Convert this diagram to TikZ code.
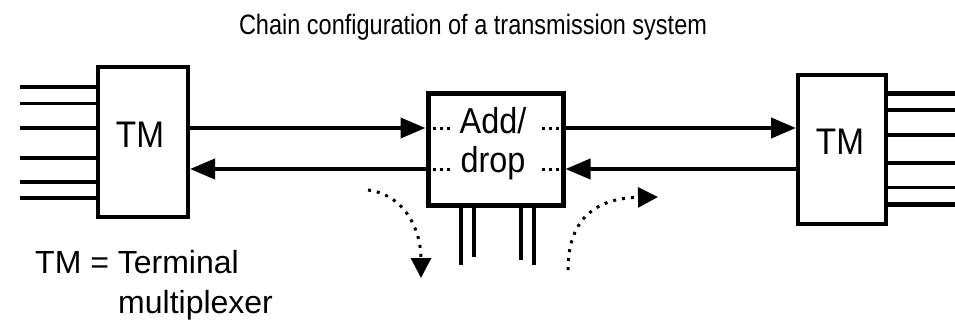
\documentclass[tikz,border=0pt]{standalone}
\usepackage{fontspec}
\setmainfont{Liberation Sans}
\newfontfamily\narrowA[FakeStretch=0.9]{Liberation Sans}
\newfontfamily\narrowB[FakeStretch=0.84]{Liberation Sans}
\usetikzlibrary{arrows.meta}
\tikzset{
  tmbox/.style={draw, line width=4pt, minimum width=90pt, minimum height=150pt, inner sep=0pt},
  adbox/.style={draw, line width=5pt, minimum width=135pt, minimum height=112pt, inner sep=0pt},
  boxtext/.style={font=\narrowA\fontsize{37}{40}\selectfont, inner sep=0pt},
  adtext/.style={font=\narrowA\fontsize{36}{40}\selectfont, inner sep=0pt, anchor=base},
  trunk/.style={line width=4pt, -{Triangle[length=25pt,width=20pt]}},
  plain/.style={line width=4pt},
  thru/.style={line width=3pt, dash pattern=on 3pt off 4pt},
  pin/.style={line width=4pt},
  flow/.style={line width=3pt, dash pattern=on 3pt off 6pt, -{Triangle[length=20pt,width=20pt]}},
}
\begin{document}
\begin{tikzpicture}[x=1pt, y=-1pt]
\useasboundingbox (0,0) rectangle (955,321);

% title
\node[font=\narrowB\fontsize{28}{32}\selectfont, inner sep=0pt] (title) at (473,27) {Chain configuration of a transmission system};

% the three network elements
\node[tmbox] (L) at (143,142) {};
\node[tmbox, minimum width=88pt, minimum height=149pt] (R) at (842,149.5) {};
\node[adbox] (A) at (495.5,149) {};

\node[boxtext] (Ltxt) at (140,135) {TM};
\node[boxtext] (Rtxt) at (840,142) {TM};
\node[adtext] (add) at (493,133) {Add/};
\node[adtext] (drop) at (493,172) {drop};

% levels of the two line directions
\coordinate (up) at (0,128);
\coordinate (dn) at (0,169);

% tributaries of the terminal multiplexers
\foreach \y/\w in {87/4,103/3,128/4,158/4,182/4,198/4} {
  \coordinate (li\y) at (20,\y);
  \draw[line width=\w pt] (li\y) -- (L.west |- li\y);
}
\foreach \y/\w in {93/5,110/4,135/4,163/4,187/3,204/5} {
  \coordinate (ri\y) at (955,\y);
  \draw[line width=\w pt] (R.east |- ri\y) -- (ri\y);
}

% line signals
\draw[trunk] (L.east |- up) -- (A.west |- up);
\draw[trunk] (A.east |- up) -- (R.west |- up);
\draw[trunk] (R.west |- dn) -- (A.east |- dn);
\draw[trunk] (A.west |- dn) -- (L.east |- dn);

% pass-through inside the add/drop multiplexer
\draw[thru] (A.west |- up) -- ++(26,0);
\draw[thru] (A.east |- up) -- ++(-27,0);
\draw[thru] (A.west |- dn) -- ++(26,0);
\draw[thru] (A.east |- dn) -- ++(-27,0);

% local ports
\coordinate (p1) at (461,265);
\coordinate (p2) at (474,257);
\coordinate (p3) at (521,260);
\coordinate (p4) at (534,265);
\foreach \p in {p1,p2,p3,p4} \draw[pin] (A.south -| \p) -- (\p);

% dropped and added traffic
\coordinate (d0) at (368,190);
\coordinate (d1) at (421,278);
\coordinate (a0) at (568,270);
\coordinate (a1) at (658,197);
\draw[flow] (d0) .. controls (405,195) and (421,230) .. (d1);
\draw[flow] (a0) .. controls (568,215) and (600,198) .. (a1);

% legend
\node[font=\fontsize{32}{36}\selectfont, inner sep=0pt, anchor=base west] (leg1) at (35,273) {TM = Terminal};
\node[font=\fontsize{32}{36}\selectfont, inner sep=0pt, anchor=base west] (leg2) at (118,313) {multiplexer};
\end{tikzpicture}
\end{document}
